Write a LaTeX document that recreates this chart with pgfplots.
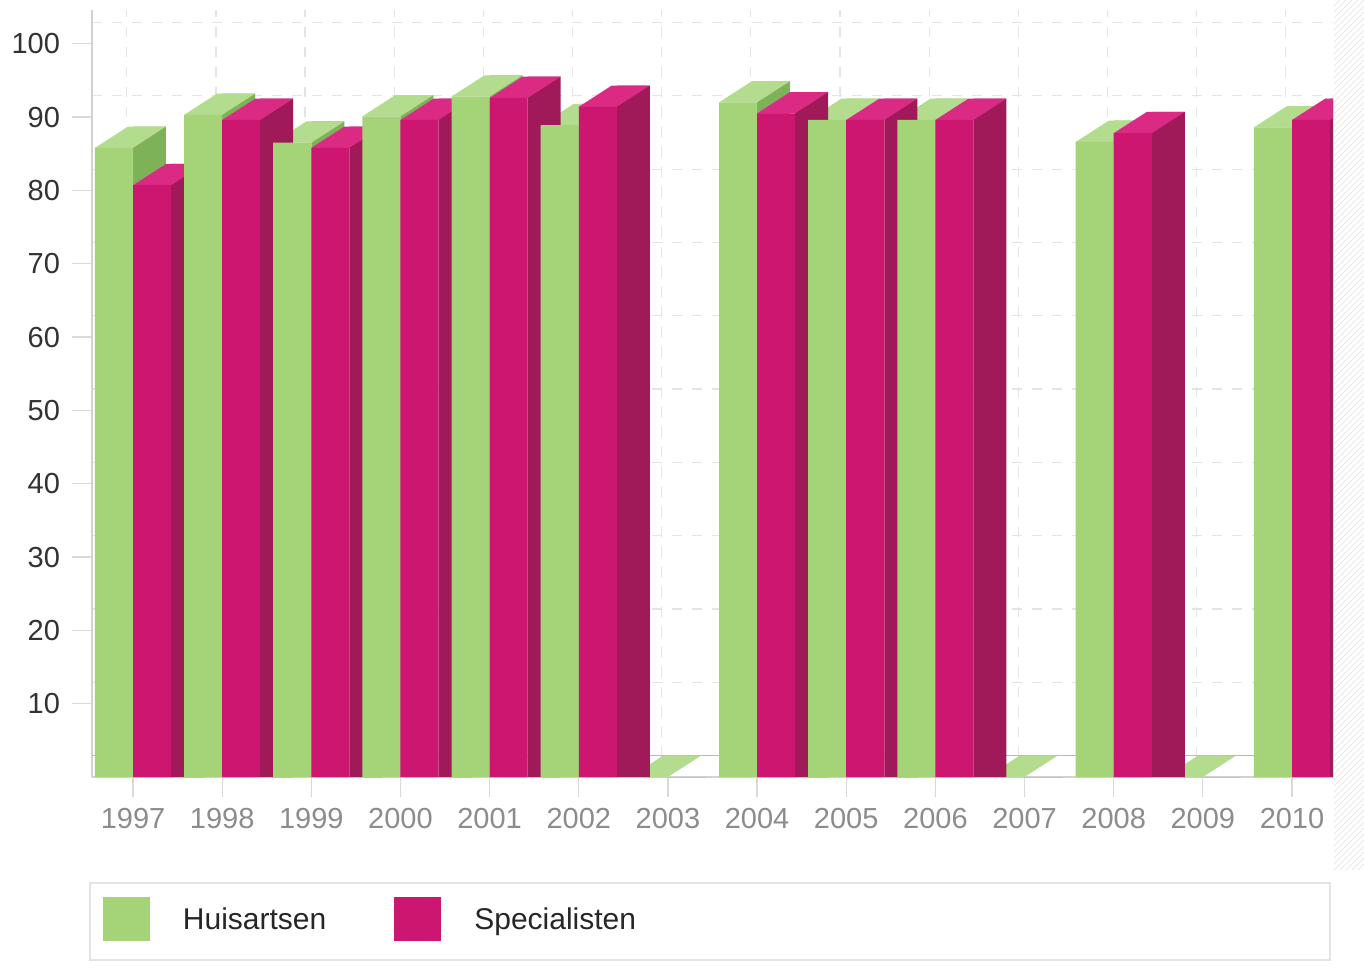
\documentclass[border=0pt]{standalone}
\usepackage{pgfplots}
\usepackage{pgfplotstable}
\pgfplotsset{compat=1.18}
\usetikzlibrary{patterns}
\usepackage{fontspec}
\setmainfont{Liberation Sans}

\definecolor{gfront}{RGB}{164,211,120}
\definecolor{gtop}{RGB}{180,220,142}
\definecolor{gside}{RGB}{126,178,88}
\definecolor{mfront}{RGB}{204,22,112}
\definecolor{mtop}{RGB}{218,42,132}
\definecolor{mside}{RGB}{160,26,90}
\definecolor{gridc}{RGB}{228,228,228}
\definecolor{xlab}{RGB}{140,140,140}
\definecolor{ylab}{RGB}{50,50,50}

% top face of a bar: front edge centred on the data point, receding up and right
\pgfdeclareplotmark{topface}{%
  \pgfpathmoveto{\pgfqpoint{-9.5pt}{0pt}}%
  \pgfpathlineto{\pgfqpoint{9.5pt}{0pt}}%
  \pgfpathlineto{\pgfqpoint{26pt}{10.63pt}}%
  \pgfpathlineto{\pgfqpoint{7pt}{10.63pt}}%
  \pgfpathclose
  \pgfusepathqfill}

\pgfplotstableread{
x g m
0 85.8 80.7
1 90.3 89.6
2 86.5 85.8
3 90.1 89.6
4 92.8 92.6
5 88.9 91.4
6 0 0
7 92.0 90.5
8 89.6 89.6
9 89.6 89.6
10 0 0
11 86.6 87.8
12 0 0
13 88.6 89.6
}\datatable

\begin{document}
\begin{tikzpicture}
\useasboundingbox (-46pt,-95.5pt) rectangle (636pt,388.5pt);
\fill[pattern=north east lines, pattern color=gray!18] (621pt,-46pt) rectangle (636pt,388.5pt);
\begin{axis}[
  scale only axis, width=620.5pt, height=383.5pt,
  xmin=-0.46, xmax=13.46, ymin=0, ymax=104.6,
  axis x line*=bottom, axis y line*=left,
  axis line style={draw=gray!35, -, line width=0.6pt},
  xtick={0,...,13},
  xticklabels={1997,1998,1999,2000,2001,2002,2003,2004,2005,2006,2007,2008,2009,2010},
  ytick={10,20,...,100},
  minor xtick={-0.07,0.93,...,12.93},
  minor ytick={12.9,22.9,...,102.9},
  xminorgrids=true, yminorgrids=true,
  minor grid style={gridc, dash pattern=on 5pt off 5pt, line width=0.6pt},
  minor tick length=0pt,
  major tick length=10pt, tick align=outside,
  tick style={gray!30, line width=0.6pt},
  /pgf/number format/assume math mode=true,
  tick label style={font=\fontsize{14.5}{17}\selectfont},
  xticklabel style={text=xlab, yshift=-2pt},
  yticklabel style={text=ylab, xshift=-2.5pt},
  clip marker paths=true,
  legend image code/.code={\fill[#1] (0pt,-10.5pt) rectangle (23.5pt,11.5pt);},
  legend style={at={(axis description cs:0.00885,-0.1851)}, anchor=west,
    draw=none, fill=none, inner sep=0pt, outer sep=0pt,
    legend columns=2, font=\fontsize{15}{18}\selectfont, text=black!85,
    nodes={inner sep=0pt},
    /tikz/every odd column/.append style={column sep=16.5pt},
    /tikz/every even column/.append style={column sep=34pt}},
  legend cell align=left,
]
\draw[gray!55, line width=0.6pt] (axis cs:-0.46,2.9) -- (axis cs:13.46,2.9);
\addlegendimage{fill=gfront, draw=none}
\addlegendentry{Huisartsen}
\addlegendimage{fill=mfront, draw=none}
\addlegendentry{Specialisten}
% sides and tops
\addplot[ybar, bar width=0.37, bar shift=0.185, fill=gside, draw=none,
  restrict y to domain=4:200, forget plot] table[x=x, y expr=\thisrow{g}+2.9] {\datatable};
\addplot[only marks, mark=topface, mark options={fill=gtop, draw=none}, forget plot]
  table[x expr=\thisrow{x}-0.2135, y=g] {\datatable};
\addplot[ybar, bar width=0.37, bar shift=0.612, fill=mside, draw=none,
  restrict y to domain=4:200, forget plot] table[x=x, y expr=\thisrow{m}+2.9] {\datatable};
\addplot[only marks, mark=topface, mark options={fill=mtop, draw=none},
  restrict y to domain=1:200, forget plot]
  table[x expr=\thisrow{x}+0.2135, y=m] {\datatable};
% front faces
\addplot[ybar, bar width=0.427, bar shift=-0.2135, fill=gfront, draw=none, forget plot]
  table[x=x, y=g] {\datatable};
\addplot[ybar, bar width=0.427, bar shift=0.2135, fill=mfront, draw=none, forget plot]
  table[x=x, y=m] {\datatable};
\end{axis}
\draw[gray!22, line width=0.8pt] (-1pt,-53pt) rectangle (619pt,-91.5pt);
\end{tikzpicture}
\end{document}
